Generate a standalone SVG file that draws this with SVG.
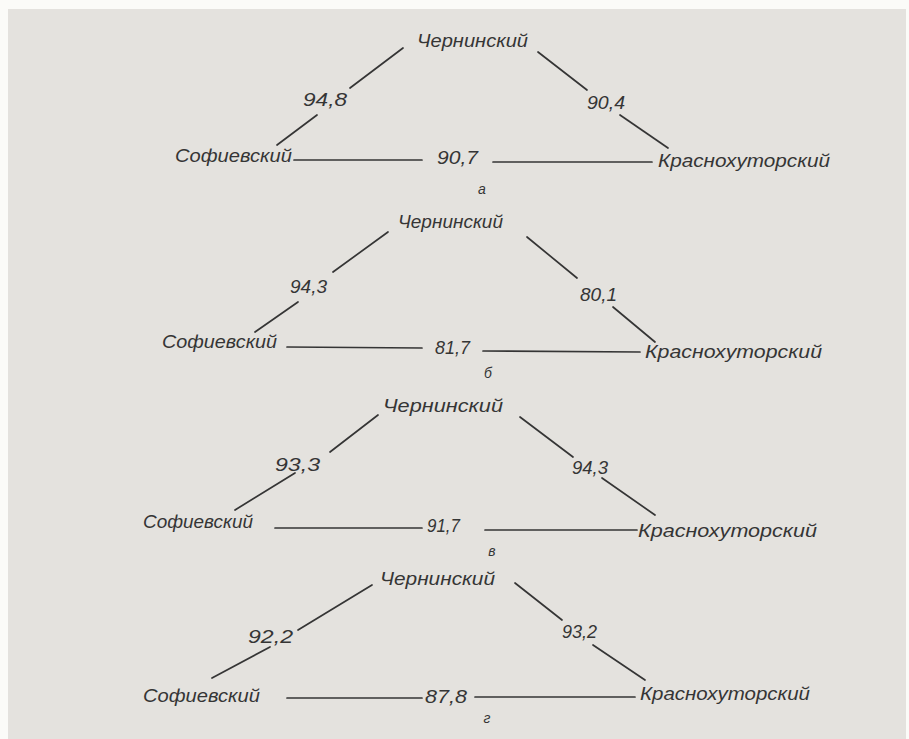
<svg xmlns="http://www.w3.org/2000/svg" width="909" height="739" viewBox="0 0 909 739">
<style>
text{font-family:"Liberation Sans","DejaVu Sans",sans-serif;font-style:italic;font-size:18px;fill:#353535}
.n{font-size:18px}
.s{font-size:14px}
line{stroke:#353535;stroke-width:1.7;stroke-linecap:round}
</style>
<rect x="0" y="0" width="909" height="739" fill="#fbfbf8"/>
<rect x="8" y="9" width="898" height="730" fill="#e4e2de"/>

<!-- Panel a -->
<g id="a-cherninsky"><text class="n" x="417" y="47" textLength="111" lengthAdjust="spacingAndGlyphs">Чернинский</text></g>
<g id="a-sofievsky"><text class="n" x="175" y="162" textLength="117" lengthAdjust="spacingAndGlyphs">Софиевский</text></g>
<g id="a-krasnokhutorsky"><text class="n" x="658" y="167" textLength="172" lengthAdjust="spacingAndGlyphs">Краснохуторский</text></g>
<text class="s" x="482" y="194" text-anchor="middle">а</text>

<!-- Panel b -->
<g id="b-cherninsky"><text class="n" x="398" y="228" textLength="105" lengthAdjust="spacingAndGlyphs">Чернинский</text></g>
<g id="b-sofievsky"><text class="n" x="162" y="348" textLength="115" lengthAdjust="spacingAndGlyphs">Софиевский</text></g>
<g id="b-krasnokhutorsky"><text class="n" x="645" y="358" textLength="177" lengthAdjust="spacingAndGlyphs">Краснохуторский</text></g>
<text class="s" x="488" y="378" text-anchor="middle">б</text>

<!-- Panel c -->
<g id="c-cherninsky"><text class="n" x="383" y="412" textLength="120" lengthAdjust="spacingAndGlyphs">Чернинский</text></g>
<g id="c-sofievsky"><text class="n" x="143" y="528" textLength="110" lengthAdjust="spacingAndGlyphs">Софиевский</text></g>
<g id="c-krasnokhutorsky"><text class="n" x="638" y="537" textLength="179" lengthAdjust="spacingAndGlyphs">Краснохуторский</text></g>
<text class="s" x="492" y="556" text-anchor="middle">в</text>

<!-- Panel d -->
<g id="d-cherninsky"><text class="n" x="380" y="585" textLength="115" lengthAdjust="spacingAndGlyphs">Чернинский</text></g>
<g id="d-sofievsky"><text class="n" x="143" y="702" textLength="117" lengthAdjust="spacingAndGlyphs">Софиевский</text></g>
<g id="d-krasnokhutorsky"><text class="n" x="640" y="700" textLength="170" lengthAdjust="spacingAndGlyphs">Краснохуторский</text></g>
<text class="s" x="487" y="723" text-anchor="middle">г</text>

<g id="connectors">
  <!-- a -->
  <line x1="403" y1="48" x2="350" y2="88"/>
  <line x1="317" y1="115" x2="277" y2="145"/>
  <text x="303" y="106" textLength="44" lengthAdjust="spacingAndGlyphs">94,8</text>
  <line x1="538" y1="52" x2="587" y2="90"/>
  <line x1="620" y1="115" x2="668" y2="148"/>
  <text x="587" y="109" textLength="38" lengthAdjust="spacingAndGlyphs">90,4</text>
  <line x1="294" y1="160" x2="422" y2="160"/>
  <line x1="493" y1="162" x2="652" y2="162"/>
  <text x="437" y="164" textLength="41" lengthAdjust="spacingAndGlyphs">90,7</text>

  <!-- b -->
  <line x1="388" y1="232" x2="333" y2="272"/>
  <line x1="298" y1="302" x2="255" y2="332"/>
  <text x="290" y="293" textLength="37" lengthAdjust="spacingAndGlyphs">94,3</text>
  <line x1="527" y1="237" x2="577" y2="278"/>
  <line x1="613" y1="307" x2="655" y2="342"/>
  <text x="580" y="301" textLength="37" lengthAdjust="spacingAndGlyphs">80,1</text>
  <line x1="287" y1="347" x2="422" y2="348"/>
  <line x1="483" y1="351" x2="640" y2="352"/>
  <text x="435" y="354" textLength="35" lengthAdjust="spacingAndGlyphs">81,7</text>

  <!-- c -->
  <line x1="378" y1="415" x2="330" y2="452"/>
  <line x1="295" y1="473" x2="235" y2="510"/>
  <text x="275" y="471" textLength="45" lengthAdjust="spacingAndGlyphs">93,3</text>
  <line x1="520" y1="417" x2="573" y2="457"/>
  <line x1="602" y1="478" x2="655" y2="515"/>
  <text x="572" y="474" textLength="36" lengthAdjust="spacingAndGlyphs">94,3</text>
  <line x1="275" y1="528" x2="422" y2="528"/>
  <line x1="485" y1="530" x2="637" y2="530"/>
  <text x="427" y="532" textLength="33" lengthAdjust="spacingAndGlyphs">91,7</text>

  <!-- d -->
  <line x1="372" y1="585" x2="298" y2="630"/>
  <line x1="270" y1="647" x2="212" y2="678"/>
  <text x="248" y="643" textLength="45" lengthAdjust="spacingAndGlyphs">92,2</text>
  <line x1="515" y1="583" x2="562" y2="620"/>
  <line x1="593" y1="645" x2="645" y2="680"/>
  <text x="562" y="638" textLength="35" lengthAdjust="spacingAndGlyphs">93,2</text>
  <line x1="287" y1="698" x2="422" y2="698"/>
  <line x1="475" y1="697" x2="635" y2="697"/>
  <text x="425" y="703" textLength="42" lengthAdjust="spacingAndGlyphs">87,8</text>
</g>
</svg>
